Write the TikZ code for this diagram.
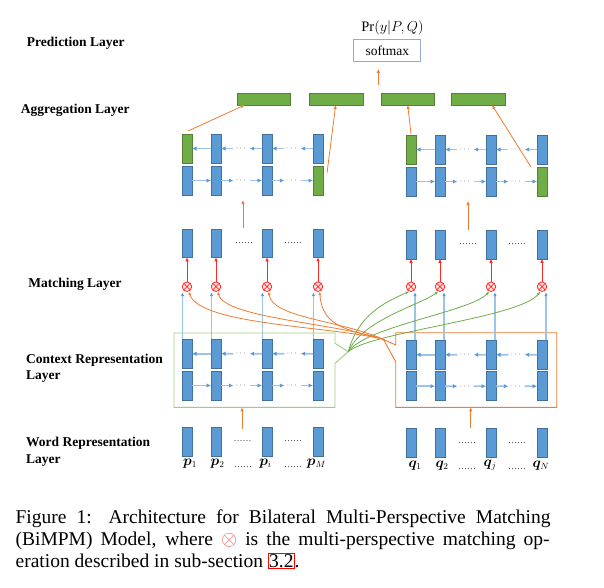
\documentclass[tikz,border=0pt]{standalone}
\usepackage{fontspec}
\setmainfont{Liberation Serif}
\usepackage{amsmath}
\usepackage{bm}
\usetikzlibrary{arrows.meta,calc}
\definecolor{barblue}{RGB}{91,155,213}
\definecolor{barblueD}{RGB}{65,113,156}
\definecolor{bargreen}{RGB}{112,173,71}
\definecolor{bargreenD}{RGB}{84,130,53}
\definecolor{lstmline}{RGB}{157,195,230}
\definecolor{orangeA}{RGB}{237,125,49}
\definecolor{greenbox}{RGB}{160,204,130}
\definecolor{greencurve}{RGB}{112,173,71}
\definecolor{matchred}{RGB}{255,40,40}
\definecolor{softblue}{RGB}{143,170,220}
\definecolor{capred}{RGB}{255,90,90}
\newcommand{\lstmrows}[1]{%
  \foreach \rw in {t,b}{%
    \node[lstmdots] (d#1\rw2) at ($(#1\rw2.east)!0.5!(#1\rw3.west)$) {$\cdots$};
    \node[lstmdots] (d#1\rw3) at ($(#1\rw3.east)!0.5!(#1\rw4.west)$) {$\cdots$};
  }%
  \draw[lstm] (#1t2.west) -- (#1t1.east);
  \draw[lstm] (d#1t2.west) -- (#1t2.east);
  \draw[lstm] (#1t3.west) -- (d#1t2.east);
  \draw[lstm] (d#1t3.west) -- (#1t3.east);
  \draw[lstm] (#1t4.west) -- (d#1t3.east);
  \draw[lstm] (#1b1.east) -- (#1b2.west);
  \draw[lstm] (#1b2.east) -- (d#1b2.west);
  \draw[lstm] (d#1b2.east) -- (#1b3.west);
  \draw[lstm] (#1b3.east) -- (d#1b3.west);
  \draw[lstm] (d#1b3.east) -- (#1b4.west);
}
\begin{document}
\begin{tikzpicture}[x=1pt,y=-1pt,
  bar/.style={rectangle,inner sep=0pt,outer sep=0pt,minimum width=10pt,line width=0.5pt},
  bb/.style={bar,fill=barblue,draw=barblueD},
  gb/.style={bar,fill=bargreen,draw=bargreenD},
  hr/.style={minimum height=29pt},
  hm/.style={minimum height=28.5pt},
  lstm/.style={draw=lstmline,line width=1.6pt,-{Latex[length=4.5pt,width=4.5pt,color=barblue]}},
  lstmdots/.style={inner sep=0pt,minimum width=16pt,text height=4pt,text depth=0pt,font=\fontsize{8}{8}\selectfont,text=black!80},
  rowdots/.style={inner sep=0pt,anchor=base,font=\fontsize{9}{9}\selectfont,text=black!85},
  oarr/.style={draw=orangeA,line width=0.8pt,-{Latex[length=4pt,width=3.5pt]}},
  redarr/.style={draw=matchred,line width=0.8pt,-{Latex[length=4pt,width=3.5pt]}},
  bluearr/.style={draw=lstmline,line width=1.2pt,-{Latex[length=4pt,width=3.5pt,color=barblue]}},
  gcurve/.style={draw=greencurve,line width=0.8pt,-{Latex[length=3.5pt,width=3pt]}},
  ocurve/.style={draw=orangeA,line width=0.8pt,-{Latex[length=3.5pt,width=3pt]}},
  otimesnode/.style={circle,draw=matchred,fill=matchred!12,line width=0.8pt,minimum size=9.5pt,inner sep=0pt,
    path picture={\draw[matchred,line width=0.7pt] (path picture bounding box.south west) -- (path picture bounding box.north east)
      (path picture bounding box.north west) -- (path picture bounding box.south east);}},
  lab/.style={font=\fontsize{13.5}{16.7}\selectfont\bfseries,inner sep=0pt},
  wlab/.style={font=\fontsize{13.5}{13.5}\selectfont,inner sep=0pt},
  captext/.style={font=\fontsize{19.5}{22.5}\selectfont,inner sep=0pt,anchor=base west}
]
\useasboundingbox (0,0) rectangle (604,587);
\fill[white] (0,0) rectangle (604,587);

% ---------- layer labels
\node[lab] (lPred) at (75.8,43.3) {Prediction Layer};
\node[lab] (lAgg) at (75.3,110) {Aggregation Layer};
\node[lab] (lMatch) at (75,284) {Matching Layer};
\node[lab,anchor=west,align=left] (lCtx) at (26,368.3) {Context Representation\\Layer};
\node[lab,anchor=west,align=left] (lWord) at (26,451.7) {Word Representation\\Layer};

% ---------- prediction
\node[wlab,font=\fontsize{14.5}{14.5}\selectfont] (pr) at (392.5,28.3) {$\Pr(y|P,Q)$};
\node[draw=softblue,line width=1pt,minimum width=66.7pt,minimum height=22.4pt,inner sep=0pt,
      font=\fontsize{13.5}{13.5}\selectfont] (sm) at (387.3,50.5) {softmax};

% ---------- aggregation bars
\node[gb,minimum width=53.5pt,minimum height=11.7pt] (ag1) at (263.5,99.2) {};
\node[gb,minimum width=54.3pt,minimum height=11.7pt] (ag2) at (336,99.2) {};
\node[gb,minimum width=53.3pt,minimum height=11.7pt] (ag3) at (407.7,99.2) {};
\node[gb,minimum width=54pt,minimum height=11.7pt] (ag4) at (478,99.2) {};
\coordinate (smfrom) at (378.3,85);
\draw[oarr] (smfrom) -- ([xshift=-9pt,yshift=-6.6pt]sm.south);

% ---------- aggregation BiLSTMs
\node[gb,hr] (aLt1) at (187,148.5) {};
\foreach \i/\x in {2/216,3/267,4/318} \node[bb,hr] (aLt\i) at (\x,148.5) {};
\foreach \i/\x in {1/187,2/216,3/267} \node[bb,hr] (aLb\i) at (\x,180.5) {};
\node[gb,hr] (aLb4) at (318,180.5) {};
\node[gb,hr] (aRt1) at (411,149.5) {};
\foreach \i/\x in {2/440,3/491,4/542} \node[bb,hr] (aRt\i) at (\x,149.5) {};
\foreach \i/\x in {1/411,2/440,3/491} \node[bb,hr] (aRb\i) at (\x,181.5) {};
\node[gb,hr] (aRb4) at (542,181.5) {};
\lstmrows{aL}
\lstmrows{aR}

\draw[oarr] ([xshift=1pt,yshift=3pt]aLt1.north) -- ([xshift=8pt]ag1.south west);
\draw[oarr] ([xshift=4pt,yshift=-7pt]aLb4.north east) -- ([xshift=-0.3pt]ag2.south);
\draw[oarr] ([yshift=1pt]aRt1.north) -- (ag3.south);
\draw[oarr] ([xshift=-6pt]aRb4.north west) -- ([xshift=14pt]ag4.south);

% ---------- matching layer
\foreach \i/\x in {1/187,2/216,3/267,4/318} {
  \node[bb,hm] (mbL\i) at (\x,243) {};
  \node[otimesnode] (mL\i) at (\x,286.7) {};
}
\foreach \i/\x in {1/411,2/440,3/491,4/542} {
  \node[bb,hm] (mbR\i) at (\x,244.5) {};
  \node[otimesnode] (mR\i) at (\x,286.7) {};
}
\node[rowdots] (mdL1) at (244,243) {\ldots\ldots};
\node[rowdots] (mdL2) at (293,243) {\ldots\ldots};
\node[rowdots] (mdR1) at (468,244) {\ldots\ldots};
\node[rowdots] (mdR2) at (517,244) {\ldots\ldots};
\foreach \i in {1,2,3,4} {
  \draw[redarr] (mL\i.north) -- (mbL\i.south);
  \draw[redarr] (mR\i.north) -- (mbR\i.south);
}
\coordinate (mLup) at (243,228); \coordinate (aLdn) at (243,200);
\coordinate (mRup) at (468,230); \coordinate (aRdn) at (468,201);
\draw[oarr] (mLup) -- (aLdn);
\draw[oarr] (mRup) -- (aRdn);

% ---------- context layer
\foreach \i/\x in {1/187,2/216,3/267,4/318} {
  \node[bb,hr] (cLt\i) at (\x,353.7) {};
  \node[bb,hr] (cLb\i) at (\x,385.5) {};
}
\foreach \i/\x in {1/411,2/440,3/491,4/542} {
  \node[bb,hr] (cRt\i) at (\x,354.7) {};
  \node[bb,hr] (cRb\i) at (\x,386.2) {};
}
\lstmrows{cL}
\lstmrows{cR}
\coordinate (gtip) at (348.3,351.7);
\coordinate (otip) at (383.3,339.3);
\draw[greenbox,line width=0.9pt] (174,333) -- (335,333) -- (335,343.3) -- (gtip) -- (335,363.3)
   -- (335,407.3) -- (174,407.3) -- cycle;
\draw[orangeA,line width=0.9pt] (395.7,332.7) -- (556.7,332.7) -- (556.7,407.3) -- (395.7,407.3)
   -- (395.7,361.7) -- (otip) -- (395.7,345) -- cycle;

% blue arrows context -> matching
\foreach \i in {1,2,3,4} {
  \draw[bluearr] ($(cLt\i.north)+(-4.5,0)$) -- ($(mL\i.center)+(-4.5,5.5)$);
  \draw[bluearr] ($(cRt\i.north)+(4,0)$) -- ($(mR\i.center)+(4,5.5)$);
}

% green curves (P side -> Q matching)
\draw[gcurve] (gtip) .. controls (358,315) and (385,302) .. (mR1.-110);
\draw[gcurve] (gtip) .. controls (362,320) and (420,305) .. (mR2.-110);
\draw[gcurve] (gtip) .. controls (366,326) and (470,312) .. (mR3.-110);
\draw[gcurve] (gtip) .. controls (370,332) and (520,318) .. (mR4.-110);
% orange curves (Q side -> P matching)
\draw[ocurve] (otip) .. controls (330,326) and (200,325) .. (mL1.-70);
\draw[ocurve] (otip) .. controls (335,323) and (225,318) .. (mL2.-70);
\draw[ocurve] (otip) .. controls (340,320) and (272,318) .. (mL3.-70);
\draw[ocurve] (otip) .. controls (350,330) and (322,328) .. (mL4.-70);

% ---------- word layer
\foreach \i/\x in {1/187,2/216,3/267,4/318} \node[bb,hm] (wL\i) at (\x,441.9) {};
\foreach \i/\x in {1/411,2/440,3/491,4/542} \node[bb,hm] (wR\i) at (\x,442.5) {};
\node[rowdots] (wdL1) at (242.5,441.5) {\ldots\ldots};
\node[rowdots] (wdL2) at (293,441.5) {\ldots\ldots};
\node[rowdots] (wdL3) at (243,467.5) {\ldots\ldots};
\node[rowdots] (wdL4) at (293,467.5) {\ldots\ldots};
\node[rowdots] (wdR1) at (467,443) {\ldots\ldots};
\node[rowdots] (wdR2) at (517,443) {\ldots\ldots};
\node[rowdots] (wdR3) at (467,469) {\ldots\ldots};
\node[rowdots] (wdR4) at (517,469) {\ldots\ldots};
\node[wlab] (p1) at (190,463.8) {$\bm{p}_1$};
\node[wlab] (p2) at (217.5,463.8) {$\bm{p}_2$};
\node[wlab] (pi) at (265.5,463.8) {$\bm{p}_i$};
\node[wlab] (pM) at (316.5,463.8) {$\bm{p}_M$};
\node[wlab] (q1) at (415,465.5) {$\bm{q}_1$};
\node[wlab] (q2) at (442,465.5) {$\bm{q}_2$};
\node[wlab] (qj) at (490,465.5) {$\bm{q}_j$};
\node[wlab] (qN) at (541,465.5) {$\bm{q}_N$};
\coordinate (wLup) at (242,429); \coordinate (cLdn) at (242,407.3);
\coordinate (wRup) at (470.7,428); \coordinate (cRdn) at (470.7,407.3);
\draw[oarr] (wLup) -- (cLdn);
\draw[oarr] (wRup) -- (cRdn);

% ---------- caption
\node[captext] (cap1) at (15.4,523) {\makebox[535pt][s]{Figure 1: Architecture for Bilateral Multi-Perspective Matching}};
\node[captext] (cap2) at (15.4,545.2) {\makebox[534pt][s]{(BiMPM) Model, where {\color{capred}$\otimes$} is the multi-perspective matching op-}};
\node[captext] (cap3) at (15.4,567.4) {eration described in sub-section {\setlength{\fboxsep}{0.6pt}\setlength{\fboxrule}{0.6pt}\color{red}\fbox{\color{black}3.2}}.};
\end{tikzpicture}
\end{document}
